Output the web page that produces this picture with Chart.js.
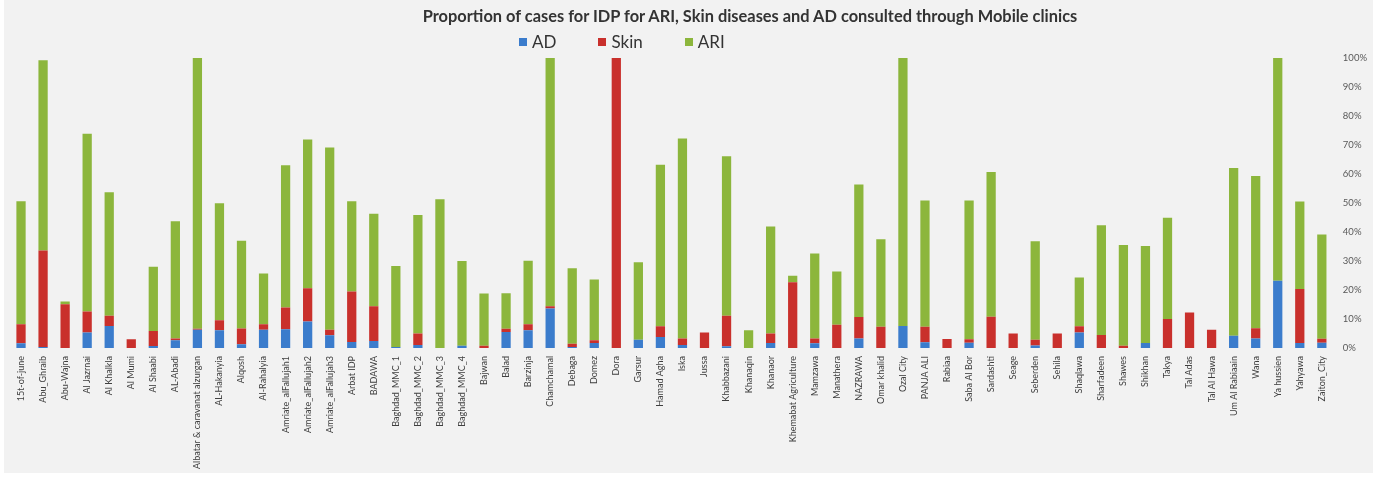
<!DOCTYPE html>
<html>
<head>
<meta charset="utf-8">
<script src="https://cdn.jsdelivr.net/npm/chart.js@4.4.1/dist/chart.umd.min.js"></script>
<style>
    html, body { margin: 0; padding: 0; background: #ffffff; }
    #wrap { position: relative; width: 1377px; height: 477px; }
    #panel { position: absolute; left: 4px; top: 0; width: 1369px; height: 473px; background: #f2f2f2; }
    #chartBox { position: absolute; left: 0; top: 0; width: 1377px; height: 477px; }
    #title {
        position: absolute; left: 400px; top: 6px; width: 700px; text-align: center;
        font-family: Lato, "Open Sans", sans-serif; font-weight: bold; font-size: 16.4px; color: #333;
        white-space: nowrap;
    }
    #legend {
        position: absolute; left: 519px; top: 31px; display: flex; gap: 42px;
        font-family: Lato, "Open Sans", sans-serif; font-size: 17px; color: #333;
    }
    .item { display: flex; align-items: center; }
    .swatch { width: 8px; height: 8px; margin-right: 5px; }
</style>
</head>
<body>
<div id="wrap">
    <div id="panel"></div>
    <div id="chartBox"><canvas id="chart" width="1377" height="477"></canvas></div>
    <div id="title">Proportion of cases for IDP for ARI, Skin diseases and AD consulted through Mobile clinics</div>
    <div id="legend"></div>
</div>
<script>
// categories (mobile clinic sites)
const categories = [
    '15t-of-june', 'Abu_Ghraib', 'Abu-Wajna', 'Al Jazrnai', 'Al Khalkla', 'Al Mumi', 'Al Shaabi', 'AL-Abadi',
    'Albatar & caravanat alzurgan', 'AL-Hakanyia', 'Alqosh', 'Al-Rahalyia', 'Amriate_alFallujah1',
    'Amriate_alFallujah2', 'Amriate_alFallujah3', 'Arbat IDP', 'BADAWA', 'Baghdad_MMC_1', 'Baghdad_MMC_2',
    'Baghdad_MMC_3', 'Baghdad_MMC_4', 'Bajwan', 'Balad', 'Barzinja', 'Chamchamal', 'Debaga', 'Domez', 'Dora',
    'Garsur', 'Hamad Agha', 'Iska', 'Jussa', 'Khabbazani', 'Khanaqin', 'Khanaor', 'Khemabat Agriculture',
    'Mamzawa', 'Manathera', 'NAZRAWA', 'Omar khalid', 'Ozal City', 'PANJA ALI', 'Rabiaa', 'Saba Al Bor',
    'Sardashti', 'Seage', 'Seberden', 'Sehila', 'Shaqlawa', 'Sharfadeen', 'Shawes', 'Shikhan', 'Takya',
    'Tal Adas', 'Tal Al Hawa', 'Um Al Rabiaain', 'Wana', 'Ya hussien', 'Yahyawa', 'Zaiton_City'
];

// share of cases (%) per site
const adValues = [
    1.6, 0.3, 0, 5.3, 7.6, 0, 0.7, 2.7, 6.3, 6.1, 1.3, 6.3, 6.5, 9.1, 4.4, 2.1, 2.4, 0.3, 1.0, 0,
    0.8, 0, 5.5, 6.1, 13.6, 0.3, 1.7, 0, 2.8, 3.8, 1.0, 0, 0.6, 0, 1.7, 0, 1.6, 0, 3.3, 0,
    7.6, 2.0, 0, 1.8, 0, 0, 0.9, 0, 5.3, 0, 0, 1.7, 0, 0, 0, 4.2, 3.3, 23.2, 1.7, 1.8
];
const skinValues = [
    6.6, 33.3, 15.1, 7.3, 3.5, 3.0, 5.2, 0.6, 0.3, 3.5, 5.4, 1.9, 7.5, 11.5, 1.9, 17.4, 12.0, 0, 4.0, 0,
    0, 0.8, 1.1, 2.1, 0.8, 1.2, 1.0, 100, 0, 3.7, 2.3, 5.3, 10.5, 0, 3.3, 22.7, 1.7, 8.0, 7.4, 7.3,
    0, 5.3, 3.1, 1.2, 10.8, 5.0, 1.9, 5.0, 2.2, 4.5, 0.8, 0, 10.0, 12.2, 6.3, 0, 3.5, 0, 18.6, 1.4
];
const ariValues = [
    42.4, 65.6, 0.9, 61.3, 42.6, 0, 22.1, 40.4, 93.4, 40.3, 30.3, 17.5, 49.0, 51.3, 62.8, 31.1, 31.9, 28.0, 40.9, 51.3,
    29.2, 18.0, 12.3, 21.9, 85.6, 26.0, 20.9, 0, 26.8, 55.7, 68.9, 0, 55.0, 6.1, 36.9, 2.2, 29.3, 18.4, 45.7, 30.2,
    92.4, 43.6, 0, 47.9, 49.9, 0, 34.0, 0, 16.8, 37.8, 34.7, 33.5, 34.9, 0, 0, 57.9, 52.5, 76.8, 30.2, 35.9
];

const yTicks = [0, 10, 20, 30, 40, 50, 60, 70, 80, 90, 100];

const seriesColors = {
    AD: '#3b7ccc',
    Skin: '#c9302c',
    ARI: '#8cb63c'
};

const legendBox = document.getElementById('legend');
Object.keys(seriesColors).forEach(name => {
    const item = document.createElement('div');
    item.className = 'item';
    item.innerHTML = `<span class="swatch" style="background:${seriesColors[name]}"></span>${name}`;
    legendBox.appendChild(item);
});

const makeSet = (label, data) => ({
    label: label,
    data: data,
    backgroundColor: seriesColors[label],
    borderWidth: 0,
    categoryPercentage: 1,
    barPercentage: 0.42
});

new Chart(document.getElementById('chart'), {
    type: 'bar',
    data: {
        labels: categories,
        datasets: [
            makeSet('AD', adValues),
            makeSet('Skin', skinValues),
            makeSet('ARI', ariValues)
        ]
    },
    options: {
        responsive: false,
        animation: false,
        layout: { padding: { top: 58, left: 10, right: 0, bottom: 0 } },
        plugins: {
            legend: { display: false },
            title: { display: false },
            tooltip: { enabled: false }
        },
        scales: {
            x: {
                stacked: true,
                grid: { display: false, drawTicks: false },
                border: { display: false },
                ticks: {
                    autoSkip: false,
                    maxRotation: 90,
                    minRotation: 90,
                    padding: 8,
                    color: '#404040',
                    font: { family: 'Lato', size: 9 }
                }
            },
            y: {
                stacked: true,
                position: 'right',
                min: 0,
                max: 100,
                afterBuildTicks: axis => {
                    axis.ticks = yTicks.map(v => ({ value: v }));
                },
                grid: { display: false, drawTicks: false },
                border: { display: false },
                ticks: {
                    padding: 10,
                    color: '#595959',
                    font: { family: 'Lato', size: 9.5 },
                    callback: value => value + '%'
                }
            }
        }
    }
});
</script>
</body>
</html>
